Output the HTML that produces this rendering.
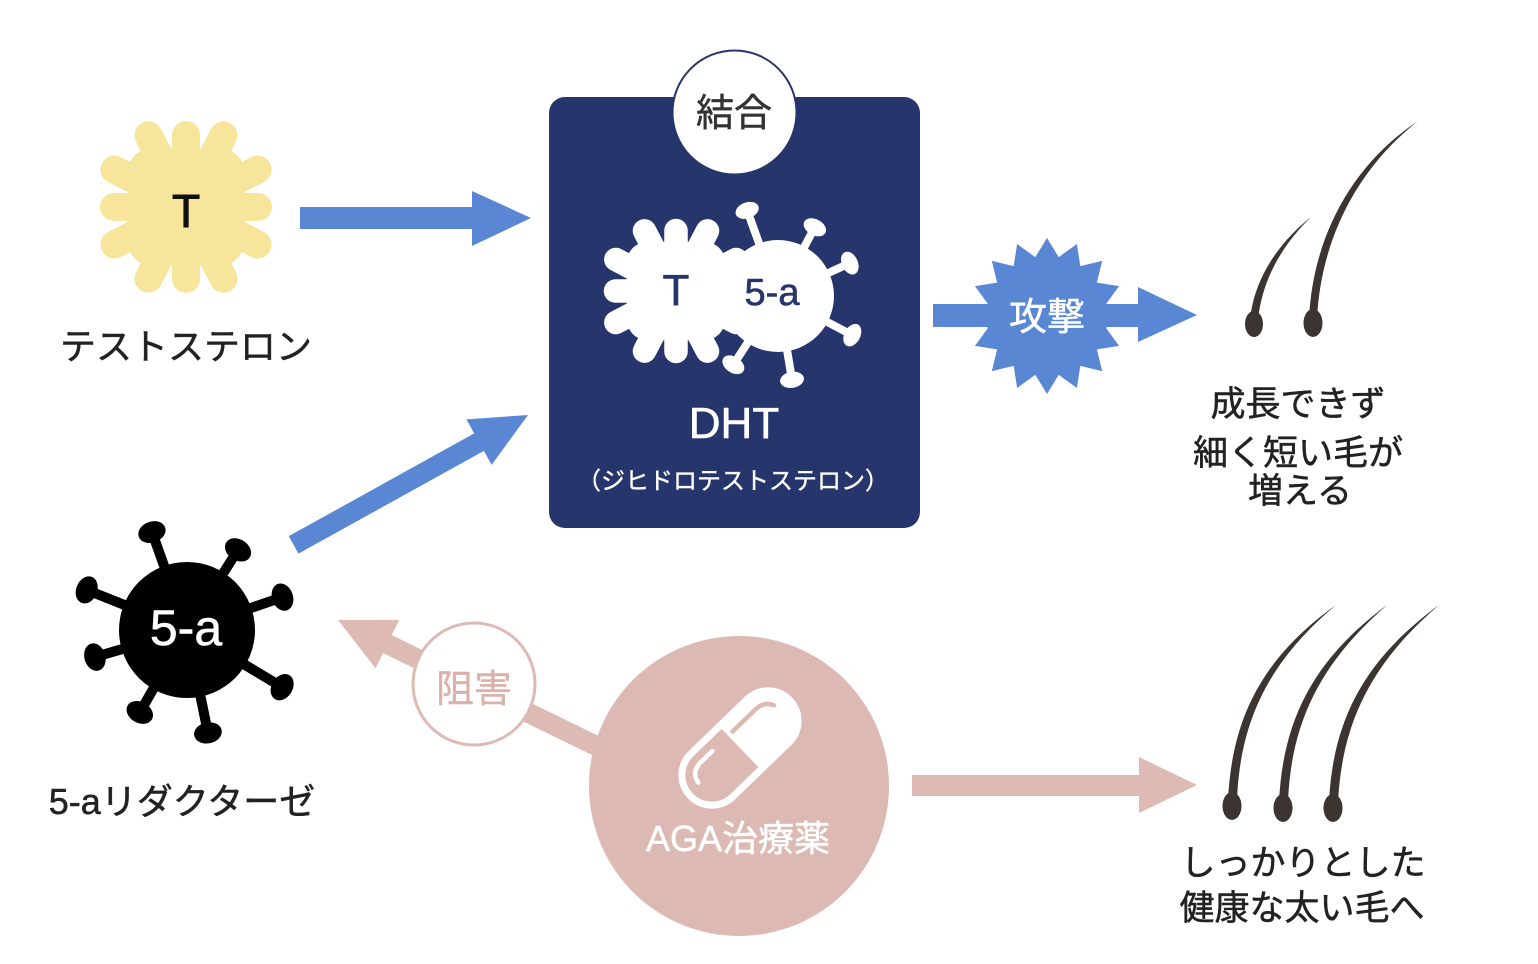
<!DOCTYPE html>
<html><head><meta charset="utf-8">
<style>
html,body{margin:0;padding:0;background:#fff;}
svg{display:block;}
text{font-family:"Liberation Sans","Noto Sans CJK JP",sans-serif;}
</style></head>
<body>
<svg width="1538" height="964" viewBox="0 0 1538 964" xmlns="http://www.w3.org/2000/svg">
<defs>
<g id="gear">
  <rect x="-58" y="-58" width="116" height="116" rx="24"/>
  <g stroke-width="28" stroke-linecap="round">
    <line x1="0" y1="0" x2="0" y2="-72"/>
    <line x1="0" y1="0" x2="-37.5" y2="-71.6"/>
    <line x1="0" y1="0" x2="37.5" y2="-71.6"/>
    <line x1="0" y1="0" x2="0" y2="72"/>
    <line x1="0" y1="0" x2="-37.5" y2="71.6"/>
    <line x1="0" y1="0" x2="37.5" y2="71.6"/>
    <line x1="0" y1="0" x2="-72" y2="0"/>
    <line x1="0" y1="0" x2="-71.6" y2="-37.5"/>
    <line x1="0" y1="0" x2="-71.6" y2="37.5"/>
    <line x1="0" y1="0" x2="72" y2="0"/>
    <line x1="0" y1="0" x2="71.6" y2="-37.5"/>
    <line x1="0" y1="0" x2="71.6" y2="37.5"/>
  </g>
</g>
</defs>
<rect width="1538" height="964" fill="#fff"/>

<!-- Testosterone gear -->
<use href="#gear" transform="translate(186,207)" fill="#f6e59b" stroke="#f6e59b"/>
<text x="186" y="227" font-size="46" text-anchor="middle" fill="#111" stroke="#111" stroke-width="1">T</text>
<text x="186" y="359" font-size="36" text-anchor="middle" fill="#222" stroke="#222" stroke-width="0.5">テストステロン</text>

<!-- Blue arrow 1 -->
<rect x="300" y="207" width="175" height="22" fill="#5a87d3"/>
<polygon points="472,191 531,218 472,246" fill="#5a87d3"/>

<!-- Blue diagonal arrow -->
<g transform="translate(528,415) rotate(151)" fill="#5a87d3">
  <polygon points="0,0 56,-26 56,26"/>
  <rect x="50" y="-10" width="218" height="20"/>
</g>

<!-- DHT box -->
<rect x="549" y="97" width="371" height="431" rx="16" fill="#26356b"/>
<circle cx="734.5" cy="112.5" r="62" fill="#fff" stroke="#26356b" stroke-width="2"/>
<text x="734" y="126" font-size="38" text-anchor="middle" fill="#333" stroke="#333" stroke-width="0.5">結合</text>

<!-- white gear in box -->
<use href="#gear" transform="translate(676,291) scale(0.84)" fill="#fff" stroke="#fff"/>
<!-- white virus in box -->
<g fill="#fff" stroke="#fff">
  <circle cx="778" cy="296" r="56" stroke="none"/>
  <g transform="rotate(-19.8 778 296)"><line x1="778" y1="296" x2="778" y2="211" stroke-width="8"/><ellipse cx="778" cy="205" rx="12" ry="8" stroke="none"/></g>
  <g transform="rotate(28.2 778 296)"><line x1="778" y1="296" x2="778" y2="224" stroke-width="8"/><ellipse cx="778" cy="218" rx="12" ry="8" stroke="none"/></g>
  <g transform="rotate(65.4 778 296)"><line x1="778" y1="296" x2="778" y2="223" stroke-width="8"/><ellipse cx="778" cy="217" rx="12" ry="8" stroke="none"/></g>
  <g transform="rotate(117.8 778 296)"><line x1="778" y1="296" x2="778" y2="218" stroke-width="8"/><ellipse cx="778" cy="212" rx="12" ry="8" stroke="none"/></g>
  <g transform="rotate(170.5 778 296)"><line x1="778" y1="296" x2="778" y2="217" stroke-width="8"/><ellipse cx="778" cy="211" rx="12" ry="8" stroke="none"/></g>
  <g transform="rotate(213 778 296)"><line x1="778" y1="296" x2="778" y2="220" stroke-width="8"/><ellipse cx="778" cy="214" rx="12" ry="8" stroke="none"/></g>
</g>
<text x="676" y="305" font-size="44" text-anchor="middle" fill="#26356b" stroke="#26356b" stroke-width="0.6">T</text>
<text x="772" y="305" font-size="38" text-anchor="middle" fill="#26356b" stroke="#26356b" stroke-width="0.6">5-a</text>
<text x="734" y="438" font-size="44" text-anchor="middle" fill="#fff" stroke="#fff" stroke-width="0.6">DHT</text>
<text x="733" y="489" font-size="24" text-anchor="middle" fill="#fff" stroke="#fff" stroke-width="0.4">（ジヒドロテストステロン）</text>

<!-- Attack arrow + star -->
<rect x="933" y="304" width="208" height="23" fill="#5a87d3"/>
<polygon points="1138,287 1197,315 1138,342" fill="#5a87d3"/>
<polygon fill="#5a87d3" points="1125,316 1105.85,327.71 1119.06,345.85 1096.89,349.34 1102.15,371.15 1080.34,365.89 1076.85,388.06 1058.71,374.85 1047,394 1035.29,374.85 1017.15,388.06 1013.66,365.89 991.85,371.15 997.11,349.34 974.94,345.85 988.15,327.71 969,316 988.15,304.29 974.94,286.15 997.11,282.66 991.85,260.85 1013.66,266.11 1017.15,243.94 1035.29,257.15 1047,238 1058.71,257.15 1076.85,243.94 1080.34,266.11 1102.15,260.85 1096.89,282.66 1119.06,286.15 1105.85,304.29"/>
<text x="1047" y="330" font-size="38" text-anchor="middle" fill="#fff" stroke="#fff" stroke-width="0.5">攻撃</text>

<!-- Top hairs -->
<g fill="#3b3431">
  <path d="M1250,320 C1254,280 1277,244 1311,217 C1281,246 1262,281 1258,320 Z"/>
  <ellipse cx="1254" cy="324" rx="9" ry="13"/>
  <path d="M1309,320 C1312,244 1347,168 1418,121 C1353,172 1320,246 1317,320 Z"/>
  <ellipse cx="1313" cy="323" rx="9.5" ry="14"/>
</g>
<g font-size="35" text-anchor="middle" fill="#222" stroke="#222" stroke-width="0.5">
  <text x="1298" y="416">成長できず</text>
  <text x="1298" y="465">細く短い毛が</text>
  <text x="1300" y="503">増える</text>
</g>

<!-- Black 5-a virus -->
<g fill="#000" stroke="#000">
  <circle cx="187" cy="630" r="68" stroke="none"/>
  <g transform="rotate(-19.7 187 630)"><line x1="187" y1="630" x2="187" y2="534" stroke-width="10"/><ellipse cx="187" cy="526" rx="14" ry="10.5" stroke="none"/></g>
  <g transform="rotate(32.5 187 630)"><line x1="187" y1="630" x2="187" y2="543" stroke-width="10"/><ellipse cx="187" cy="535" rx="14" ry="10.5" stroke="none"/></g>
  <g transform="rotate(71 187 630)"><line x1="187" y1="630" x2="187" y2="537" stroke-width="10"/><ellipse cx="187" cy="529" rx="14" ry="10.5" stroke="none"/></g>
  <g transform="rotate(121 187 630)"><line x1="187" y1="630" x2="187" y2="527" stroke-width="10"/><ellipse cx="187" cy="519" rx="14" ry="10.5" stroke="none"/></g>
  <g transform="rotate(168.5 187 630)"><line x1="187" y1="630" x2="187" y2="533" stroke-width="10"/><ellipse cx="187" cy="525" rx="14" ry="10.5" stroke="none"/></g>
  <g transform="rotate(-150.2 187 630)"><line x1="187" y1="630" x2="187" y2="543" stroke-width="10"/><ellipse cx="187" cy="535" rx="14" ry="10.5" stroke="none"/></g>
  <g transform="rotate(-106.4 187 630)"><line x1="187" y1="630" x2="187" y2="542" stroke-width="10"/><ellipse cx="187" cy="534" rx="14" ry="10.5" stroke="none"/></g>
  <g transform="rotate(-68.2 187 630)"><line x1="187" y1="630" x2="187" y2="530" stroke-width="10"/><ellipse cx="187" cy="522" rx="14" ry="10.5" stroke="none"/></g>
</g>
<text x="186" y="645" font-size="50" text-anchor="middle" fill="#fff" stroke="#fff" stroke-width="0.6">5-a</text>
<text x="182" y="814" font-size="36" text-anchor="middle" fill="#222" stroke="#222" stroke-width="0.5">5-aリダクターゼ</text>

<!-- Pink inhibit arrow -->
<g transform="translate(338,620) rotate(26)" fill="#ddbbb4">
  <polygon points="0,0 55,-27 55,27"/>
  <rect x="50" y="-10" width="240" height="20"/>
</g>
<circle cx="474" cy="684" r="61" fill="#fff" stroke="#ddbbb4" stroke-width="3"/>
<text x="474" y="702" font-size="38" text-anchor="middle" fill="#d8b2ab" stroke="#d8b2ab" stroke-width="0.4">阻害</text>

<!-- Pink right arrow -->
<rect x="912" y="775" width="230" height="21" fill="#ddbbb4"/>
<polygon points="1139,757 1197,785 1139,813" fill="#ddbbb4"/>

<!-- Pill circle -->
<circle cx="739" cy="786" r="150" fill="#dcbab3"/>
<g transform="translate(740,748) rotate(-44)">
  <path d="M0,-30 H39 A30,30 0 0 1 39,30 H0 Z" fill="#fff"/>
  <rect x="-69" y="-30" width="138" height="60" rx="30" fill="none" stroke="#fff" stroke-width="7"/>
  <path d="M-54,-4 Q-52,-17 -38,-17 L-22,-17" fill="none" stroke="#fff" stroke-width="4.5" stroke-linecap="round"/>
  <path d="M6,-17 L38,-17 Q50,-17 54,-7" fill="none" stroke="#dcbab3" stroke-width="4.5" stroke-linecap="round"/>
</g>
<text x="738" y="851" font-size="36" text-anchor="middle" fill="#fff" stroke="#fff" stroke-width="0.5">AGA治療薬</text>

<!-- Bottom hairs -->
<g fill="#3b3431">
  <path d="M1228,800 C1232,718 1262,658 1336,605 C1268,662 1240,722 1237,800 Z"/>
  <ellipse cx="1232" cy="806" rx="9.5" ry="14"/>
  <path d="M1279,802 C1283,720 1313,660 1387,605 C1319,664 1291,724 1288,802 Z"/>
  <ellipse cx="1283" cy="808" rx="9.5" ry="14"/>
  <path d="M1329,802 C1333,720 1364,660 1439,605 C1370,664 1342,724 1338,802 Z"/>
  <ellipse cx="1333" cy="808" rx="9.5" ry="14"/>
</g>
<g font-size="35" text-anchor="middle" fill="#222" stroke="#222" stroke-width="0.5">
  <text x="1303" y="875">しっかりとした</text>
  <text x="1302" y="920">健康な太い毛へ</text>
</g>
</svg>
</body></html>
